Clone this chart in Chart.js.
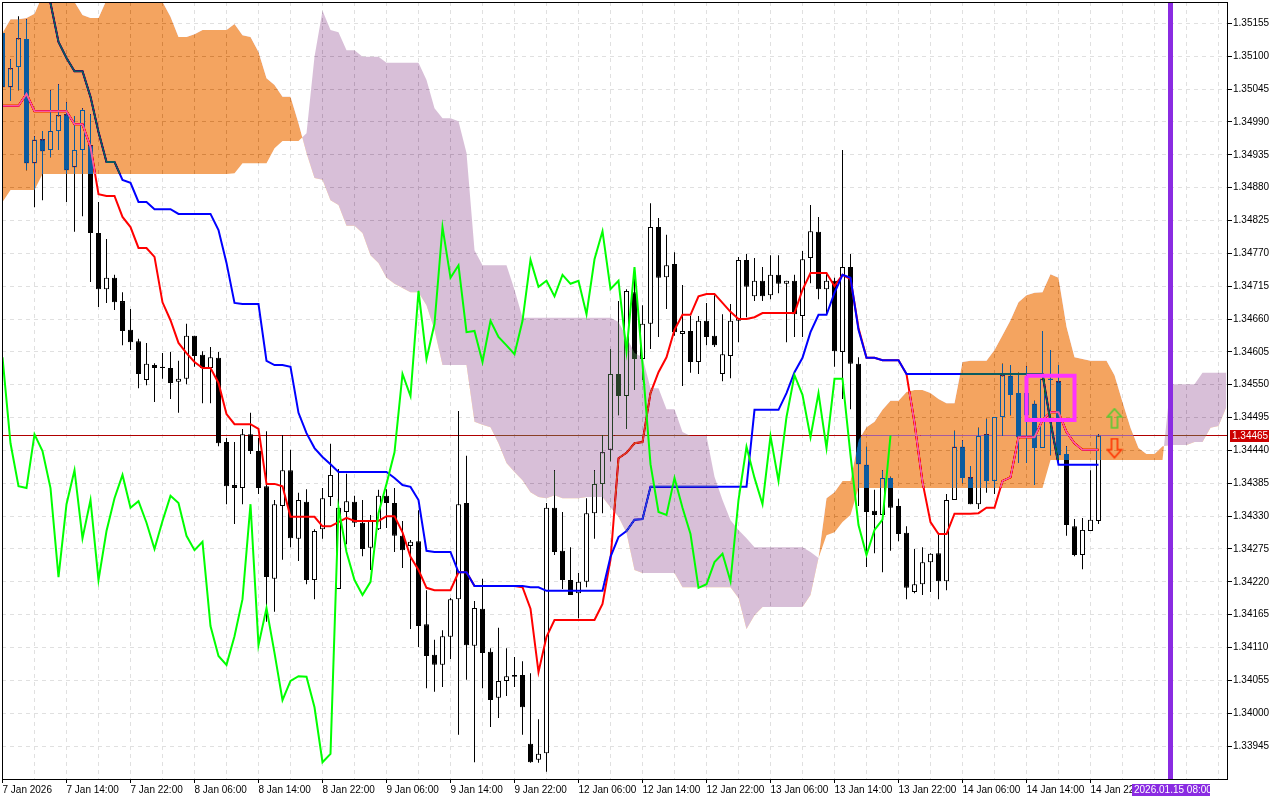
<!DOCTYPE html>
<html>
<head>
<meta charset="utf-8">
<title>EURUSD H1 Ichimoku</title>
<script src="https://cdn.jsdelivr.net/npm/chart.js@4/dist/chart.umd.js"></script>
<style>
    html, body { margin: 0; padding: 0; background: #fff; }
    canvas { display: block; }
</style>
</head>
<body>
<canvas id="ichimokuChart" width="1280" height="800"></canvas>
<script>
// One bar per hour, a time label every 8 bars
const xLabels = ["7 Jan 2026", "7 Jan 14:00", "7 Jan 22:00", "8 Jan 06:00", "8 Jan 14:00", "8 Jan 22:00",
    "9 Jan 06:00", "9 Jan 14:00", "9 Jan 22:00", "12 Jan 06:00", "12 Jan 14:00", "12 Jan 22:00",
    "13 Jan 06:00", "13 Jan 14:00", "13 Jan 22:00", "14 Jan 06:00", "14 Jan 14:00", "14 Jan 22:00"];
const yTicks = [1.35155, 1.35100, 1.35045, 1.34990, 1.34935, 1.34880, 1.34825, 1.34770, 1.34715, 1.34660, 1.34605,
    1.34550, 1.34495, 1.34440, 1.34385, 1.34330, 1.34275, 1.34220, 1.34165, 1.34110, 1.34055, 1.34000, 1.33945];

const highs = [1.35144,1.35095,1.35167,1.35162,1.34966,1.34975,1.35043,1.35053,1.35023,1.35000,
    1.35013,1.35003,1.34856,1.34794,1.34734,1.34705,1.34677,1.34627,1.34620,1.34586,
    1.34603,1.34605,1.34590,1.34652,1.34632,1.34606,1.34613,1.34605,1.34461,1.34454,
    1.34476,1.34503,1.34461,1.34472,1.34357,1.34466,1.34441,1.34369,1.34375,1.34308,
    1.34377,1.34451,1.34409,1.34401,1.34364,1.34357,1.34332,1.34374,1.34375,1.34377,
    1.34322,1.34290,1.34340,1.34206,1.34123,1.34139,1.34193,1.34506,1.34431,1.34188,
    1.34225,1.34109,1.34143,1.34109,1.34094,1.34087,1.34067,1.33990,1.34352,1.34407,
    1.34337,1.34278,1.34235,1.34360,1.34407,1.34466,1.34610,1.34690,1.34710,1.34747,
    1.34683,1.34854,1.34829,1.34801,1.34772,1.34717,1.34665,1.34665,1.34687,1.34700,
    1.34668,1.34685,1.34764,1.34769,1.34762,1.34747,1.34767,1.34767,1.34724,1.34734,
    1.34774,1.34851,1.34831,1.34737,1.34729,1.34943,1.34769,1.34596,1.34446,1.34374,
    1.34407,1.34396,1.34359,1.34313,1.34275,1.34278,1.34268,1.34302,1.34367,1.34473,
    1.34457,1.34414,1.34478,1.34493,1.34496,1.34585,1.34583,1.34570,1.34581,1.34523,
    1.34640,1.34608,1.34583,1.34447,1.34325,1.34327,1.34407,1.34467];
const lows = [1.35027,1.35025,1.35043,1.34909,1.34847,1.34859,1.34931,1.34943,1.34856,1.34806,
    1.34832,1.34722,1.34680,1.34687,1.34675,1.34616,1.34608,1.34544,1.34549,1.34521,
    1.34560,1.34526,1.34503,1.34551,1.34580,1.34519,1.34519,1.34447,1.34350,1.34317,
    1.34350,1.34434,1.34367,1.34153,1.34170,1.34257,1.34278,1.34255,1.34216,1.34191,
    1.34292,1.34347,1.34208,1.34283,1.34312,1.34263,1.34240,1.34307,1.34310,1.34270,
    1.34243,1.34141,1.34111,1.34042,1.34036,1.34044,1.34091,1.33964,1.34056,1.33918,
    1.34042,1.33977,1.33992,1.34029,1.34044,1.33964,1.33917,1.33917,1.33902,1.34265,
    1.34208,1.34198,1.34159,1.34211,1.34292,1.34335,1.34422,1.34499,1.34476,1.34541,
    1.34558,1.34610,1.34630,1.34677,1.34632,1.34548,1.34570,1.34568,1.34616,1.34613,
    1.34556,1.34561,1.34621,1.34663,1.34690,1.34690,1.34693,1.34703,1.34621,1.34630,
    1.34630,1.34720,1.34693,1.34668,1.34580,1.34526,1.34509,1.34347,1.34245,1.34268,
    1.34236,1.34272,1.34288,1.34191,1.34201,1.34198,1.34203,1.34191,1.34206,1.34357,
    1.34385,1.34350,1.34342,1.34369,1.34367,1.34464,1.34499,1.34419,1.34419,1.34382,
    1.34444,1.34432,1.34416,1.34297,1.34263,1.34241,1.34305,1.34317];
const opens = [1.35139,1.35048,1.35082,1.35129,1.34921,1.34961,1.34943,1.34975,1.35003,1.34914,
    1.34943,1.34951,1.34804,1.34710,1.34729,1.34690,1.34642,1.34623,1.34558,1.34583,
    1.34580,1.34578,1.34555,1.34560,1.34632,1.34600,1.34578,1.34595,1.34454,1.34382,
    1.34377,1.34467,1.34439,1.34380,1.34225,1.34347,1.34407,1.34292,1.34354,1.34223,
    1.34308,1.34362,1.34208,1.34337,1.34354,1.34319,1.34277,1.34308,1.34364,1.34352,
    1.34297,1.34280,1.34288,1.34149,1.34098,1.34081,1.34128,1.34191,1.34352,1.34113,
    1.34175,1.34103,1.34026,1.34054,1.34064,1.34064,1.33949,1.33922,1.33933,1.34344,
    1.34272,1.34223,1.34201,1.34220,1.34335,1.34384,1.34441,1.34568,1.34531,1.34705,
    1.34593,1.34652,1.34814,1.34730,1.34752,1.34635,1.34640,1.34588,1.34657,1.34632,
    1.34568,1.34598,1.34657,1.34759,1.34698,1.34724,1.34700,1.34734,1.34719,1.34724,
    1.34665,1.34762,1.34806,1.34710,1.34724,1.34605,1.34747,1.34585,1.34416,1.34339,
    1.34332,1.34394,1.34347,1.34302,1.34203,1.34216,1.34253,1.34268,1.34221,1.34357,
    1.34446,1.34395,1.34350,1.34467,1.34389,1.34496,1.34565,1.34536,1.34499,1.34518,
    1.34444,1.34558,1.34556,1.34434,1.34313,1.34265,1.34305,1.34322];
const closes = [1.35048,1.35080,1.35130,1.34921,1.34960,1.34941,1.34975,1.35001,1.34909,1.34943,
    1.35010,1.34804,1.34710,1.34729,1.34688,1.34640,1.34621,1.34568,1.34585,1.34578,
    1.34578,1.34553,1.34560,1.34632,1.34598,1.34578,1.34596,1.34452,1.34380,1.34377,
    1.34467,1.34439,1.34377,1.34228,1.34350,1.34407,1.34293,1.34357,1.34223,1.34305,
    1.34360,1.34399,1.34344,1.34355,1.34319,1.34275,1.34322,1.34364,1.34352,1.34297,
    1.34273,1.34287,1.34146,1.34096,1.34081,1.34129,1.34191,1.34350,1.34114,1.34176,
    1.34101,1.34022,1.34054,1.34062,1.34061,1.34010,1.33918,1.33932,1.34344,1.34270,
    1.34223,1.34198,1.34220,1.34335,1.34384,1.34437,1.34568,1.34531,1.34707,1.34593,
    1.34652,1.34814,1.34729,1.34750,1.34638,1.34640,1.34588,1.34657,1.34630,1.34616,
    1.34601,1.34657,1.34759,1.34714,1.34724,1.34698,1.34734,1.34719,1.34724,1.34668,
    1.34760,1.34807,1.34710,1.34724,1.34606,1.34747,1.34585,1.34417,1.34337,1.34332,
    1.34394,1.34344,1.34300,1.34210,1.34216,1.34253,1.34267,1.34221,1.34357,1.34446,
    1.34394,1.34350,1.34464,1.34389,1.34496,1.34566,1.34533,1.34462,1.34536,1.34444,
    1.34560,1.34560,1.34432,1.34315,1.34265,1.34307,1.34324,1.34465];

const tenkan = [1.35017,1.35017,1.35017,1.35037,1.35008,1.35008,1.35008,1.35008,1.35008,1.34986,
    1.34986,1.34948,1.34869,1.34866,1.34866,1.34831,1.34814,1.34779,1.34779,1.34764,
    1.34688,1.34658,1.34620,1.34603,1.34588,1.34578,1.34578,1.34553,1.34501,1.34484,
    1.34484,1.34484,1.34476,1.34384,1.34384,1.34380,1.34329,1.34329,1.34329,1.34329,
    1.34313,1.34313,1.34320,1.34327,1.34322,1.34322,1.34322,1.34322,1.34330,1.34330,
    1.34303,1.34262,1.34240,1.34210,1.34206,1.34206,1.34206,1.34236,1.34236,1.34213,
    1.34213,1.34213,1.34213,1.34213,1.34213,1.34211,1.34175,1.34069,1.34128,1.34156,
    1.34156,1.34156,1.34156,1.34156,1.34156,1.34183,1.34257,1.34427,1.34436,1.34452,
    1.34454,1.34536,1.34571,1.34596,1.34642,1.34667,1.34667,1.34698,1.34702,1.34702,
    1.34687,1.34672,1.34660,1.34660,1.34663,1.34670,1.34670,1.34670,1.34670,1.34670,
    1.34709,1.34737,1.34737,1.34737,1.34715,1.34734,1.34727,1.34645,1.34595,1.34595,
    1.34591,1.34591,1.34591,1.34568,1.34486,1.34387,1.34320,1.34300,1.34300,1.34334,
    1.34334,1.34334,1.34335,1.34344,1.34344,1.34389,1.34395,1.34462,1.34462,1.34462,
    1.34491,1.34504,1.34504,1.34471,1.34452,1.34441,1.34441,1.34441];
const kijun = [1.35227,1.35227,1.35227,1.35227,1.35227,1.35211,1.35189,1.35124,1.35097,1.35075,
    1.35075,1.35032,1.34973,1.34923,1.34923,1.34893,1.34888,1.34856,1.34856,1.34844,
    1.34844,1.34844,1.34836,1.34836,1.34836,1.34836,1.34836,1.34809,1.34754,1.34687,
    1.34685,1.34685,1.34685,1.34590,1.34583,1.34583,1.34580,1.34503,1.34469,1.34444,
    1.34429,1.34417,1.34404,1.34404,1.34404,1.34404,1.34404,1.34404,1.34404,1.34394,
    1.34382,1.34379,1.34357,1.34272,1.34270,1.34270,1.34270,1.34236,1.34236,1.34213,
    1.34213,1.34213,1.34213,1.34213,1.34213,1.34213,1.34211,1.34211,1.34205,1.34205,
    1.34205,1.34205,1.34205,1.34205,1.34205,1.34205,1.34262,1.34295,1.34305,1.34324,
    1.34325,1.34379,1.34379,1.34379,1.34379,1.34379,1.34379,1.34379,1.34379,1.34379,
    1.34379,1.34379,1.34379,1.34379,1.34508,1.34508,1.34508,1.34508,1.34536,1.34571,
    1.34595,1.34638,1.34667,1.34667,1.34704,1.34734,1.34729,1.34642,1.34595,1.34595,
    1.34591,1.34591,1.34591,1.34568,1.34568,1.34568,1.34568,1.34568,1.34568,1.34568,
    1.34568,1.34568,1.34568,1.34568,1.34568,1.34568,1.34568,1.34568,1.34568,1.34568,
    1.34568,1.34488,1.34416,1.34416,1.34416,1.34416,1.34416,1.34416];
const chikou = [1.34596,1.34452,1.34380,1.34377,1.34467,1.34439,1.34377,1.34228,1.34350,1.34407,
    1.34293,1.34357,1.34223,1.34305,1.34360,1.34399,1.34344,1.34355,1.34319,1.34275,
    1.34322,1.34364,1.34352,1.34297,1.34273,1.34287,1.34146,1.34096,1.34081,1.34129,
    1.34191,1.34350,1.34114,1.34176,1.34101,1.34022,1.34054,1.34062,1.34061,1.34010,
    1.33918,1.33932,1.34344,1.34270,1.34223,1.34198,1.34220,1.34335,1.34384,1.34437,
    1.34568,1.34531,1.34707,1.34593,1.34652,1.34814,1.34729,1.34750,1.34638,1.34640,
    1.34588,1.34657,1.34630,1.34616,1.34601,1.34657,1.34759,1.34714,1.34724,1.34698,
    1.34734,1.34719,1.34724,1.34668,1.34760,1.34807,1.34710,1.34724,1.34606,1.34747,
    1.34585,1.34417,1.34337,1.34332,1.34394,1.34344,1.34300,1.34210,1.34216,1.34253,
    1.34267,1.34221,1.34357,1.34446,1.34394,1.34350,1.34464,1.34389,1.34496,1.34566,
    1.34533,1.34462,1.34536,1.34444,1.34560,1.34560,1.34432,1.34315,1.34265,1.34307,
    1.34324,1.34465];
// Cloud runs 16 bars past the last candle, up to the right edge of the window
const spanA = [1.34856,1.34876,1.34876,1.34876,1.34876,1.34903,1.34903,1.34903,1.34903,1.34903,
    1.34903,1.34903,1.34903,1.34903,1.34903,1.34903,1.34903,1.34903,1.34903,1.34903,
    1.34903,1.34903,1.34903,1.34903,1.34903,1.34903,1.34903,1.34903,1.34903,1.34904,
    1.34921,1.34921,1.34921,1.34921,1.34946,1.34958,1.34958,1.34958,1.34971,1.35099,
    1.35176,1.35144,1.35140,1.35110,1.35110,1.35099,1.35099,1.35099,1.35089,1.35089,
    1.35089,1.35089,1.35089,1.35060,1.35013,1.34996,1.34996,1.34991,1.34938,1.34775,
    1.34750,1.34750,1.34750,1.34750,1.34709,1.34662,1.34662,1.34662,1.34662,1.34662,
    1.34662,1.34662,1.34662,1.34662,1.34662,1.34662,1.34662,1.34655,1.34630,1.34603,
    1.34596,1.34544,1.34544,1.34509,1.34509,1.34471,1.34464,1.34464,1.34464,1.34396,
    1.34357,1.34323,1.34307,1.34293,1.34278,1.34278,1.34278,1.34278,1.34278,1.34278,
    1.34278,1.34270,1.34260,1.34298,1.34303,1.34320,1.34332,1.34377,1.34377,1.34377,
    1.34377,1.34377,1.34377,1.34377,1.34377,1.34377,1.34377,1.34377,1.34377,1.34377,
    1.34377,1.34377,1.34377,1.34377,1.34377,1.34377,1.34377,1.34377,1.34377,1.34377,
    1.34377,1.34424,1.34424,1.34424,1.34424,1.34424,1.34424,1.34424,1.34424,1.34424,
    1.34424,1.34424,1.34424,1.34424,1.34424,1.34424,1.34551,1.34551,1.34551,1.34551,
    1.34570,1.34570,1.34570,1.34570];
const spanB = [1.35139,1.35162,1.35162,1.35164,1.35171,1.35202,1.35211,1.35211,1.35202,1.35191,
    1.35169,1.35164,1.35164,1.35194,1.35211,1.35211,1.35211,1.35211,1.35211,1.35211,
    1.35191,1.35166,1.35132,1.35132,1.35137,1.35144,1.35144,1.35144,1.35144,1.35154,
    1.35135,1.35132,1.35107,1.35063,1.35052,1.35032,1.35032,1.34988,1.34938,1.34896,
    1.34893,1.34859,1.34851,1.34816,1.34816,1.34804,1.34767,1.34754,1.34729,1.34719,
    1.34712,1.34705,1.34705,1.34683,1.34642,1.34583,1.34583,1.34583,1.34583,1.34488,
    1.34483,1.34479,1.34452,1.34419,1.34404,1.34390,1.34370,1.34362,1.34360,1.34365,
    1.34360,1.34360,1.34360,1.34362,1.34362,1.34362,1.34345,1.34329,1.34302,1.34240,
    1.34235,1.34235,1.34235,1.34235,1.34235,1.34211,1.34211,1.34211,1.34211,1.34211,
    1.34211,1.34211,1.34193,1.34141,1.34164,1.34178,1.34178,1.34178,1.34178,1.34178,
    1.34178,1.34198,1.34260,1.34360,1.34370,1.34389,1.34389,1.34457,1.34479,1.34488,
    1.34508,1.34523,1.34523,1.34538,1.34541,1.34541,1.34536,1.34526,1.34519,1.34519,
    1.34588,1.34590,1.34590,1.34590,1.34608,1.34633,1.34658,1.34688,1.34700,1.34704,
    1.34705,1.34735,1.34729,1.34647,1.34596,1.34593,1.34590,1.34590,1.34590,1.34566,
    1.34521,1.34478,1.34444,1.34434,1.34434,1.34447,1.34449,1.34449,1.34449,1.34454,
    1.34454,1.34478,1.34481,1.34513];

const lastPrice = 1.34465;
const eventBar = 146;
const eventLabel = "2026.01.15 08:00";
const boxBars = [128, 134];
const boxPrices = [1.34565, 1.34491];
const arrowBar = 139;
const upArrowPrice = 1.34493;
const downArrowPrice = 1.34443;

const Y_MAX = 1.351908;
const Y_MIN = 1.338899;
const X_MIN = -0.0625;
const X_MAX = 153.0625;
const FONT = '"Liberation Sans", sans-serif';
const FONT_SIZE = 10;

const line = (values) => values.map((y, i) => ({ x: i, y: y }));

// hollow arrow used as a point style
function arrowIcon(color, up) {
    const c = document.createElement("canvas");
    c.width = 18;
    c.height = 22;
    const g = c.getContext("2d");
    const pts = [[9, 1], [16, 9], [12, 9], [12, 20], [6, 20], [6, 9], [2, 9]];
    g.strokeStyle = color;
    g.lineWidth = 1.6;
    g.beginPath();
    pts.forEach((p, i) => {
        const py = up ? p[1] : 21 - p[1];
        if (i === 0) g.moveTo(p[0], py); else g.lineTo(p[0], py);
    });
    g.closePath();
    g.stroke();
    return c;
}

// The cloud inverts whatever lies under it, like the terminal does
const cloudBlend = {
    id: "cloudBlend",
    beforeDatasetDraw(chart, args) {
        if (chart.data.datasets[args.index].cloud) {
            chart.ctx.save();
            chart.ctx.globalCompositeOperation = "difference";
        }
    },
    afterDatasetDraw(chart, args) {
        if (chart.data.datasets[args.index].cloud) {
            chart.ctx.restore();
        }
    }
};
Chart.unregister(Chart.Filler);
Chart.register(cloudBlend, Chart.Filler);

const frameAndTags = {
    id: "frameAndTags",
    beforeDraw(chart) {
        chart.ctx.save();
        chart.ctx.fillStyle = "#fff";
        chart.ctx.fillRect(0, 0, chart.width, chart.height);
        chart.ctx.restore();
    },
    afterDraw(chart) {
        const ctx = chart.ctx;
        const area = chart.chartArea;
        ctx.save();
        ctx.strokeStyle = "#000";
        ctx.lineWidth = 1;
        ctx.strokeRect(area.left + 0.5, area.top + 0.5, area.right - area.left, area.bottom - area.top);
        ctx.font = FONT_SIZE + "px " + FONT;
        ctx.textBaseline = "middle";
        // last price tag
        const py = chart.scales.y.getPixelForValue(lastPrice);
        ctx.fillStyle = "#cc0000";
        ctx.fillRect(1230, Math.round(py) - 6, 39, 12);
        ctx.fillStyle = "#fff";
        ctx.fillText(lastPrice.toFixed(5), 1232, Math.round(py));
        // event time tag
        const ex = chart.scales.x.getPixelForValue(eventBar);
        ctx.fillStyle = "#8a2be2";
        ctx.fillRect(Math.round(ex) - 39, 784, 78, 12);
        ctx.fillStyle = "#fff";
        ctx.fillText(eventLabel, Math.round(ex) - 37, 790);
        ctx.restore();
    }
};

new Chart(document.getElementById("ichimokuChart").getContext("2d"), {
    data: {
        datasets: [
            {
                type: "bar", order: 0, data: [{ x: eventBar, y: [Y_MIN, Y_MAX] }],
                barThickness: 5, backgroundColor: "#8a2be2", inflateAmount: 0, grouped: false
            },
            {
                type: "line", order: 1, showLine: false, pointStyle: arrowIcon("#55cc33", true),
                pointRadius: 1, pointHoverRadius: 1, pointBorderWidth: 0,
                data: [{ x: arrowBar, y: upArrowPrice }]
            },
            {
                type: "line", order: 1, showLine: false, pointStyle: arrowIcon("#ff3300", false),
                pointRadius: 1, pointHoverRadius: 1, pointBorderWidth: 0,
                data: [{ x: arrowBar, y: downArrowPrice }]
            },
            {
                type: "line", order: 2, borderColor: "#ff33ff", borderWidth: 4, pointRadius: 0, borderJoinStyle: "miter",
                data: [
                    { x: boxBars[0], y: boxPrices[0] }, { x: boxBars[1], y: boxPrices[0] },
                    { x: boxBars[1], y: boxPrices[1] }, { x: boxBars[0], y: boxPrices[1] }, { x: boxBars[0], y: boxPrices[0] }
                ]
            },
            { type: "line", order: 3, data: line(chikou), borderColor: "#00ff00", borderWidth: 2, pointRadius: 0 },
            {
                type: "line", order: 4, cloud: true, data: line(spanA), borderWidth: 0, pointRadius: 0,
                fill: { target: "+1", above: "#274027", below: "#0b5b9f" }
            },
            { type: "line", order: 4, data: line(spanB), borderWidth: 0, pointRadius: 0, fill: false },
            { type: "line", order: 5, data: line(kijun), borderColor: "#0000ff", borderWidth: 2, pointRadius: 0 },
            { type: "line", order: 6, data: line(tenkan), borderColor: "#ff0000", borderWidth: 2, pointRadius: 0 },
            {
                type: "bar", order: 7, data: opens.map((o, i) => ({ x: i, y: [o, closes[i]] })),
                barThickness: 5, borderWidth: 1, borderColor: "#000", borderSkipped: false, inflateAmount: 0, grouped: false,
                backgroundColor: (c) => closes[c.dataIndex] > opens[c.dataIndex] ? "#fff" : "#000"
            },
            {
                type: "bar", order: 8, data: highs.map((h, i) => ({ x: i, y: [lows[i], h] })),
                barThickness: 1, backgroundColor: "#000", inflateAmount: 0, grouped: false
            },
            {
                type: "line", order: 9, borderColor: "#b00000", borderWidth: 1, pointRadius: 0,
                data: [{ x: X_MIN, y: lastPrice }, { x: X_MAX, y: lastPrice }]
            }
        ]
    },
    options: {
        responsive: false,
        animation: false,
        devicePixelRatio: 1,
        layout: { padding: { left: 2, top: 2, right: 0, bottom: 0 } },
        plugins: { legend: { display: false }, tooltip: { enabled: false }, title: { display: false } },
        scales: {
            x: {
                type: "linear",
                min: X_MIN,
                max: X_MAX,
                offset: false,
                afterBuildTicks: (axis) => {
                    axis.ticks = Array.from({ length: 39 }, (_, k) => ({ value: k * 4 }));
                },
                afterFit: (axis) => {
                    axis.height = 21;
                    axis.paddingLeft = 0;
                    axis.paddingRight = 0;
                },
                grid: {
                    offset: false,
                    color: "#e0e0e0",
                    tickLength: 4,
                    tickColor: (c) => c.tick && c.tick.value % 8 === 0 && c.tick.value <= 136 ? "#000" : "rgba(0,0,0,0)"
                },
                border: { color: "#000", dash: [4, 4] },
                ticks: {
                    autoSkip: false,
                    maxRotation: 0,
                    minRotation: 0,
                    align: "start",
                    padding: 1,
                    color: "#000",
                    font: { family: FONT, size: FONT_SIZE },
                    callback: (value) => (value % 8 === 0 && xLabels[value / 8]) || ""
                }
            },
            y: {
                type: "linear",
                position: "right",
                min: Y_MIN,
                max: Y_MAX,
                afterBuildTicks: (axis) => {
                    axis.ticks = yTicks.map((v) => ({ value: v }));
                },
                afterFit: (axis) => {
                    axis.width = 53;
                    axis.paddingTop = 0;
                    axis.paddingBottom = 0;
                },
                grid: { color: "#e0e0e0", tickLength: 5, tickColor: "#000" },
                border: { color: "#000", dash: [4, 4] },
                ticks: {
                    padding: 1,
                    color: "#000",
                    font: { family: FONT, size: FONT_SIZE },
                    callback: (value) => value.toFixed(5)
                }
            }
        }
    },
    plugins: [frameAndTags]
});
</script>
</body>
</html>
